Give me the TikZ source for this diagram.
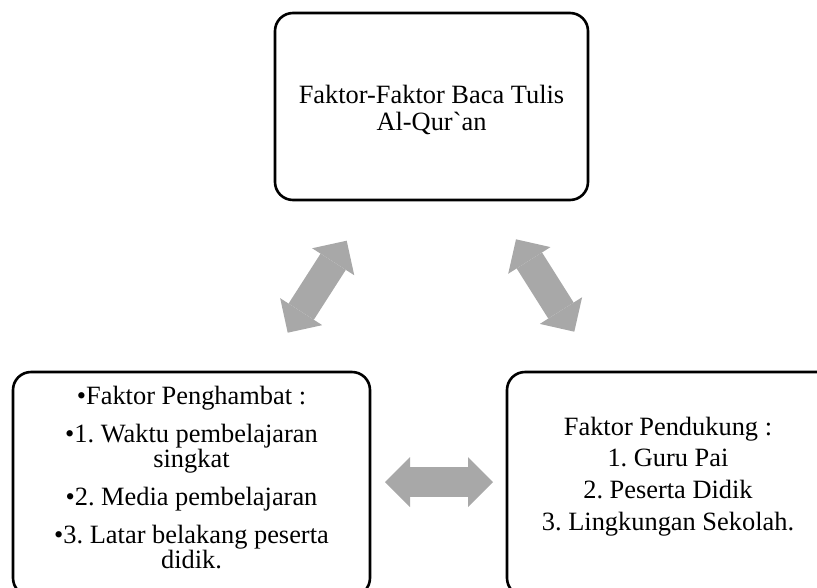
\documentclass[tikz,border=0pt]{standalone}
\usepackage{fontspec}
\setmainfont{Liberation Serif}[Ligatures=TeXOff]
\usetikzlibrary{arrows.meta}
\definecolor{arrowgray}{RGB}{168,168,168}
\frenchspacing

\begin{document}
\begin{tikzpicture}[x=1pt, y=-1pt,
    box/.style = {draw, line width=2.6pt, rounded corners=18pt},
    txt/.style = {align=center, inner sep=0pt},
    link/.style = {color=arrowgray, line width=30pt,
      {Triangle[length=25pt,width=50pt,line width=0pt]}-{Triangle[length=25pt,width=50pt,line width=0pt]}}
    ]
    \useasboundingbox (0,0) rectangle (817,587);
    % boxes
    \node[box, minimum width=313pt, minimum height=187pt] (top) at (431.5,106.5) {};
    \node[box, minimum width=357pt, minimum height=224pt] (pen) at (191.5,484) {};
    \node[box, minimum width=328pt, minimum height=224pt] (dukung) at (671,484) {};
    % texts
    \node[txt, font=\fontsize{26.4}{27}\selectfont] (toptext) at (431.5,110)
        {Faktor-Faktor Baca Tulis\\Al-Qur`an};
    \node[txt, font=\fontsize{26.4}{23.5}\selectfont] (pentext) at (191.5,477.5)
        {•Faktor Penghambat :\\[13pt]
         •1. Waktu pembelajaran\\singkat\\[13pt]
         •2. Media pembelajaran\\[13pt]
         •3. Latar belakang peserta\\didik.};
    \node[txt, font=\fontsize{26.4}{31.7}\selectfont] (dukungtext) at (668,476.4)
        {Faktor Pendukung :\\1. Guru Pai\\2. Peserta Didik\\3. Lingkungan Sekolah.};
    % arrows
    \coordinate (l1) at (287.7,332.7);
    \coordinate (l2) at (346.7,240.7);
    \coordinate (r1) at (516,239.3);
    \coordinate (r2) at (574.3,331.7);
    \coordinate (m1) at (385,482);
    \coordinate (m2) at (493,482);
    \draw[link] (l1) -- (l2);
    \draw[link] (r1) -- (r2);
    \draw[link] (m1) -- (m2);
\end{tikzpicture}
\end{document}
